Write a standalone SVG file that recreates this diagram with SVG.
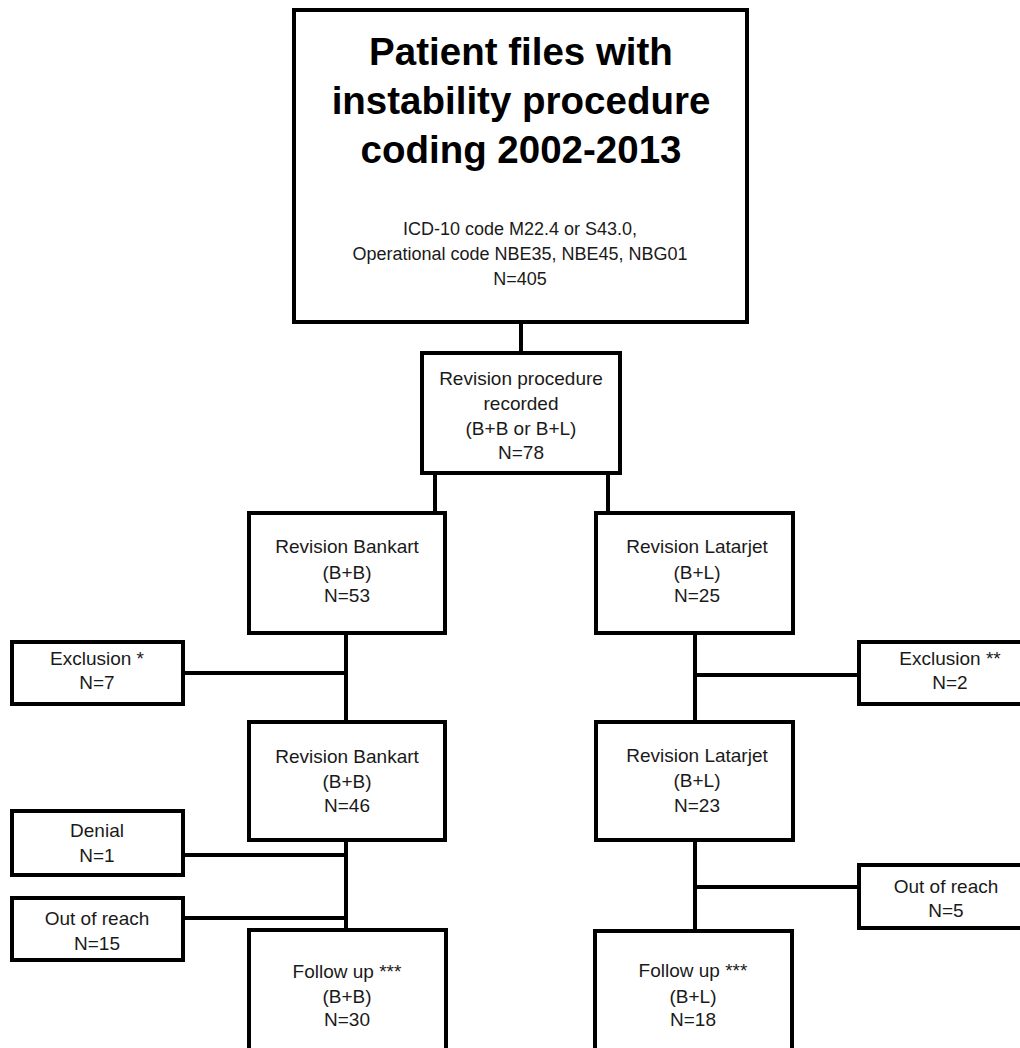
<svg xmlns="http://www.w3.org/2000/svg" width="1020" height="1048" viewBox="0 0 1020 1048">
<style>
.box{fill:#fff;stroke:#000;stroke-width:4}
.ln{stroke:#000;stroke-width:4;fill:none}
text{font-family:"Liberation Sans",Arial,sans-serif;fill:#1a1a1a;text-anchor:middle}
.t{font-size:38.5px;font-weight:bold;fill:#000}
.s{font-size:18px}
.n{font-size:19px}
</style>
<rect width="1020" height="1048" fill="#fff"/>
<g id="connectors">
<line class="ln" x1="521" y1="322" x2="521" y2="353"/>
<line class="ln" x1="435" y1="473" x2="435" y2="513"/>
<line class="ln" x1="608" y1="473" x2="608" y2="513"/>
<line class="ln" x1="346" y1="633" x2="346" y2="722"/>
<line class="ln" x1="183" y1="673" x2="346" y2="673"/>
<line class="ln" x1="695" y1="633" x2="695" y2="722"/>
<line class="ln" x1="695" y1="675" x2="859" y2="675"/>
<line class="ln" x1="346" y1="840" x2="346" y2="930"/>
<line class="ln" x1="183" y1="855" x2="346" y2="855"/>
<line class="ln" x1="183" y1="918" x2="346" y2="918"/>
<line class="ln" x1="695" y1="840" x2="695" y2="931"/>
<line class="ln" x1="695" y1="887" x2="859" y2="887"/>
</g>
<g id="top">
<rect class="box" x="294" y="10" width="453" height="312"/>
<text class="t" x="521" y="65">Patient files with</text>
<text class="t" x="521" y="114">instability procedure</text>
<text class="t" x="521" y="163">coding 2002-2013</text>
<text class="s" x="520" y="235">ICD-10 code M22.4 or S43.0,</text>
<text class="s" x="520" y="260">Operational code NBE35, NBE45, NBG01</text>
<text class="s" x="520" y="285">N=405</text>
</g>
<g id="revision">
<rect class="box" x="422" y="353" width="198" height="120"/>
<text class="n" x="521" y="385">Revision procedure</text>
<text class="n" x="521" y="410">recorded</text>
<text class="n" x="521" y="435">(B+B or B+L)</text>
<text class="n" x="521" y="459">N=78</text>
</g>
<g id="bankart1">
<rect class="box" x="249" y="513" width="196" height="120"/>
<text class="n" x="347" y="553">Revision Bankart</text>
<text class="n" x="347" y="579">(B+B)</text>
<text class="n" x="347" y="602">N=53</text>
</g>
<g id="latarjet1">
<rect class="box" x="596" y="513" width="197" height="120"/>
<text class="n" x="697" y="553">Revision Latarjet</text>
<text class="n" x="697" y="579">(B+L)</text>
<text class="n" x="697" y="602">N=25</text>
</g>
<g id="exclusion1">
<rect class="box" x="12" y="642" width="171" height="62"/>
<text class="n" x="97" y="665">Exclusion *</text>
<text class="n" x="97" y="689">N=7</text>
</g>
<g id="exclusion2">
<rect class="box" x="859" y="642" width="200" height="62"/>
<text class="n" x="950" y="665">Exclusion **</text>
<text class="n" x="950" y="689">N=2</text>
</g>
<g id="bankart2">
<rect class="box" x="249" y="722" width="196" height="118"/>
<text class="n" x="347" y="763">Revision Bankart</text>
<text class="n" x="347" y="788">(B+B)</text>
<text class="n" x="347" y="812">N=46</text>
</g>
<g id="latarjet2">
<rect class="box" x="596" y="722" width="197" height="118"/>
<text class="n" x="697" y="762">Revision Latarjet</text>
<text class="n" x="697" y="787">(B+L)</text>
<text class="n" x="697" y="812">N=23</text>
</g>
<g id="denial">
<rect class="box" x="12" y="811" width="171" height="64"/>
<text class="n" x="97" y="837">Denial</text>
<text class="n" x="97" y="862">N=1</text>
</g>
<g id="outofreach1">
<rect class="box" x="12" y="898" width="171" height="62"/>
<text class="n" x="97" y="925">Out of reach</text>
<text class="n" x="97" y="950">N=15</text>
</g>
<g id="outofreach2">
<rect class="box" x="859" y="865" width="200" height="63"/>
<text class="n" x="946" y="893">Out of reach</text>
<text class="n" x="946" y="917">N=5</text>
</g>
<g id="followup1">
<rect class="box" x="249" y="930" width="197" height="140"/>
<text class="n" x="347" y="978">Follow up ***</text>
<text class="n" x="347" y="1003">(B+B)</text>
<text class="n" x="347" y="1026">N=30</text>
</g>
<g id="followup2">
<rect class="box" x="595" y="931" width="197" height="140"/>
<text class="n" x="693" y="977">Follow up ***</text>
<text class="n" x="693" y="1003">(B+L)</text>
<text class="n" x="693" y="1026">N=18</text>
</g>
</svg>
